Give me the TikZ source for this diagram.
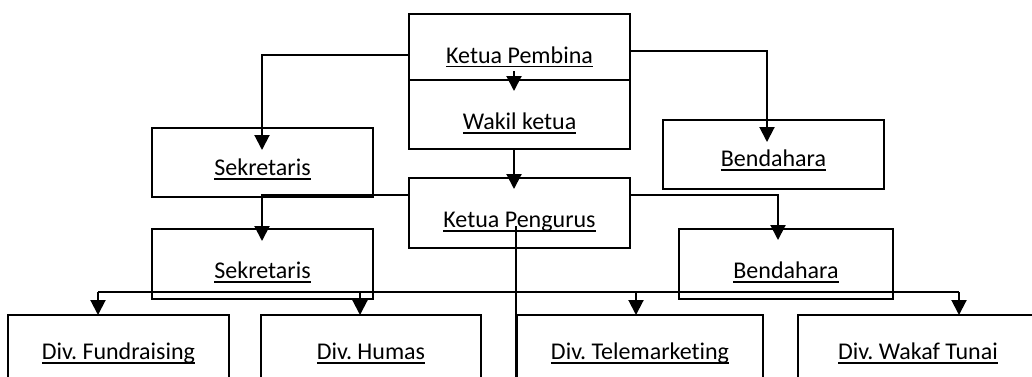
\documentclass[tikz,border=0pt]{standalone}
\usepackage{fontspec}
\setmainfont{Carlito}[Ligatures={NoCommon,NoContextual}]
\usetikzlibrary{arrows.meta}
\frenchspacing
\newcommand\ulx[1]{\setbox0\hbox{#1}\rlap{\rule[-4.3pt]{\wd0}{1.6pt}}\box0}
\tikzset{
  box/.style={draw, line width=2.2pt, inner sep=0pt, outer sep=0pt, anchor=north west,
    font=\fontsize{24}{28}\selectfont},
  conn/.style={line width=2pt},
  arr/.style={conn, -{Triangle[length=15pt,width=15pt]}}
}
\begin{document}
\begin{tikzpicture}[x=1pt,y=-1pt]
\useasboundingbox (0,0) rectangle (1032,376);
\clip (0,0) rectangle (1032,376);
% boxes
\node[box, minimum width=221pt, text height=49pt,   text depth=17pt]   (pembina)  at (409,14)  {\ulx{Ketua Pembina}};
\node[box, minimum width=221pt, text height=49.5pt, text depth=19.5pt] (wakil)    at (409,80)  {\ulx{Wakil ketua}};
\node[box, minimum width=221pt, text height=49.5pt, text depth=20.5pt] (pengurus) at (409,178) {\ulx{Ketua Pengurus}};
\node[box, minimum width=221pt, text height=47.5pt, text depth=21.5pt] (sek1)     at (152,128) {\ulx{Sekretaris}};
\node[box, minimum width=221pt, text height=46.5pt, text depth=22.5pt] (bend1)    at (663,120) {\ulx{Bendahara}};
\node[box, minimum width=221pt, text height=49.5pt, text depth=20.5pt] (sek2)     at (152,229) {\ulx{Sekretaris}};
\node[box, minimum width=214pt, text height=49.5pt, text depth=20.5pt] (bend2)    at (679,229) {\ulx{Bendahara}};
\node[box, minimum width=221pt, text height=44.5pt, text depth=45.5pt] (fund)     at (8,315)   {\ulx{Div. Fundraising}};
\node[box, minimum width=220pt, text height=44.5pt, text depth=45.5pt] (humas)    at (261,315) {\ulx{Div. Humas}};
\node[box, minimum width=246pt, text height=44.5pt, text depth=45.5pt] (tele)     at (517,315) {\ulx{Div. Telemarketing}};
\node[box, minimum width=240pt, text height=44.5pt, text depth=45.5pt] (wakaf)    at (798,315) {\ulx{Div. Wakaf Tunai}};
% arrow tips
\coordinate (sek1tip)  at (262,150);
\coordinate (bend1tip) at (767,142);
\coordinate (wakiltip) at (514,91);
\coordinate (pengtip)  at (514,189);
\coordinate (sek2tip)  at (262,241);
\coordinate (bend2tip) at (778,240);
% connectors from Ketua Pembina
\draw[arr] ([yshift=-8pt]pembina.west) -| (sek1tip);
\draw[arr] ([yshift=-4pt]pembina.east) -| (bend1tip);
\draw[arr] ([xshift=-5.5pt,yshift=-24pt]pembina.center) -- (wakiltip);
\draw[arr] ([xshift=-5.5pt]wakil.south) -- (pengtip);
% connectors from Ketua Pengurus
\draw[arr] ([yshift=18pt]pengurus.west) -| (sek2tip);
\draw[arr] ([yshift=18pt]pengurus.east) -| (bend2tip);
\draw[line width=1.4pt] ([xshift=-3.5pt,yshift=-13pt]pengurus.center) -- ([xshift=-3.5pt]pengurus.center |- tele.south);
% bus to divisions
\coordinate (b1) at (98,292);
\coordinate (b2) at (360,292);
\coordinate (b3) at (636,292);
\coordinate (b4) at (959,292);
\draw[conn] (b1) -- (b4);
\draw[arr] (b1) -- (b1 |- fund.north);
\draw[arr] (b2) -- (b2 |- humas.north);
\draw[arr] (b3) -- (b3 |- tele.north);
\draw[arr] (b4) -- (b4 |- wakaf.north);
\end{tikzpicture}
\end{document}
